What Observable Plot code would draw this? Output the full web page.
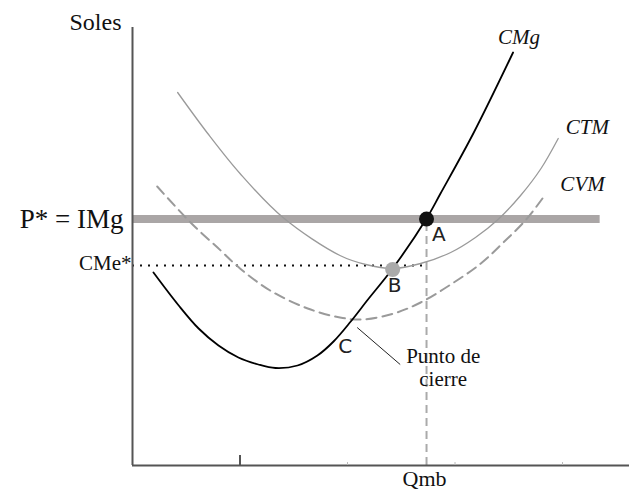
<!DOCTYPE html>
<html>
<head>
<meta charset="utf-8">
<script src="https://cdn.jsdelivr.net/npm/d3@7"></script>
<script src="https://cdn.jsdelivr.net/npm/@observablehq/plot@0.6"></script>
<style>
  html, body { margin: 0; padding: 0; background: #fff; }
  svg { display: block; }
</style>
</head>
<body>
<div id="chart"></div>
<script>
// ---- data (x: cantidad, y: soles) ----
const cmgX = [0.195, 0.43, 0.615, 0.80, 0.985, 1.17, 1.33, 1.535, 1.72, 1.87, 2.03, 2.19, 2.42, 2.735, 2.865, 3.17, 3.54];
const cmgY = [1.93, 1.60, 1.37, 1.20, 1.08, 1.01, 0.975, 1.00, 1.10, 1.24, 1.44, 1.66, 1.97, 2.47, 2.72, 3.32, 4.13];

const ctmX = [0.42, 0.70, 1.00, 1.40, 1.93, 2.17, 2.42, 2.68, 2.96, 3.19, 3.40, 3.61, 3.80, 3.96];
const ctmY = [3.73, 3.32, 2.92, 2.48, 2.10, 2.01, 1.97, 2.02, 2.13, 2.28, 2.46, 2.70, 2.97, 3.27];

const cvmX = [0.23, 0.54, 0.82, 1.00, 1.28, 1.63, 1.93, 2.14, 2.43, 2.68, 2.96, 3.24, 3.45, 3.67, 3.84];
const cvmY = [2.79, 2.43, 2.15, 1.97, 1.75, 1.57, 1.48, 1.46, 1.52, 1.63, 1.81, 2.02, 2.23, 2.47, 2.71];

const pStar = 2.465;     // P* = IMg
const cmeStar = 2.0;     // CMe*
const qmb = 2.735;       // Qmb
const pointA = {x: 2.735, y: 2.465};
const pointB = {x: 2.42, y: 1.96};
const xTicks = [1, 2, 3, 4];
const xMax = 4.623, yMax = 4.38;
const pLineEnd = 4.35;

const curveLabels = ["CMg", "CTM", "CVM"];
const curveLabelX = [3.40, 4.03, 3.98];
const curveLabelY = [4.22, 3.32, 2.75];

const pointLabels = ["A", "B", "C"];
const pointLabelX = [2.785, 2.375, 1.915];
const pointLabelY = [2.25, 1.735, 1.125];

const noteLines = ["Punto de", "cierre"];
const noteX = [2.89, 2.89];
const noteY = [1.03, 0.80];
const leader = [{x1: 2.09, y1: 1.38, x2: 2.49, y2: 1.01}];

const toRows = (xs, ys) => xs.map((x, i) => ({x, y: ys[i]}));
const cmg = toRows(cmgX, cmgY);
const ctm = toRows(ctmX, ctmY);
const cvm = toRows(cvmX, cvmY);
const curveLab = curveLabels.map((t, i) => ({t, x: curveLabelX[i], y: curveLabelY[i]}));
const pointLab = pointLabels.map((t, i) => ({t, x: pointLabelX[i], y: pointLabelY[i]}));
const noteLab = noteLines.map((t, i) => ({t, x: noteX[i], y: noteY[i]}));

const serif = "Liberation Serif, Times New Roman, serif";
const sans = "DejaVu Sans, Open Sans, sans-serif";

const chart = Plot.plot({
  width: 629,
  height: 491,
  marginLeft: 132,
  marginRight: 0,
  marginTop: 27,
  marginBottom: 26,
  x: {domain: [0, xMax], axis: null},
  y: {domain: [0, yMax], axis: null},
  style: {background: "#fff", overflow: "visible"},
  marks: [
    // P* = IMg thick line
    Plot.ruleY([pStar], {x1: 0, x2: pLineEnd, stroke: "#aaa6a6", strokeWidth: 8}),
    // CMe* dotted
    Plot.ruleY([cmeStar], {x1: 0, x2: qmb, stroke: "#111", strokeWidth: 2, strokeDasharray: "2,6"}),
    // Qmb dashed vertical
    Plot.ruleX([qmb], {y1: 0, y2: pStar, stroke: "#aaa", strokeWidth: 2, strokeDasharray: "8,5"}),
    // curves
    Plot.line(ctm, {x: "x", y: "y", curve: "catmull-rom", stroke: "#9a9a9a", strokeWidth: 1.3}),
    Plot.line(cvm, {x: "x", y: "y", curve: "catmull-rom", stroke: "#9a9a9a", strokeWidth: 2, strokeDasharray: "10,6"}),
    Plot.line(cmg, {x: "x", y: "y", curve: "catmull-rom", stroke: "#000", strokeWidth: 1.8}),
    // axes
    Plot.ruleX([0], {stroke: "#555", strokeWidth: 2}),
    Plot.ruleY([0], {stroke: "#555", strokeWidth: 2}),
    Plot.ruleX(xTicks.slice(0, 1), {y1: 0, y2: 0.1, stroke: "#555", strokeWidth: 2}),
    Plot.ruleX(xTicks.slice(1), {y1: 0, y2: 0.03, stroke: "#bbb", strokeWidth: 1}),
    // points
    Plot.dot([pointA], {x: "x", y: "y", r: 7.5, fill: "#111", stroke: "none"}),
    Plot.dot([pointB], {x: "x", y: "y", r: 7.5, fill: "#aaa", stroke: "none"}),
    // leader line
    Plot.link(leader, {x1: "x1", y1: "y1", x2: "x2", y2: "y2", stroke: "#222", strokeWidth: 1}),
    // axis labels
    Plot.text(["Soles"], {x: 0, y: yMax, dx: -11, dy: 2, textAnchor: "end", lineAnchor: "bottom", fontSize: 24, fontFamily: serif, fill: "#111"}),
    Plot.text(["P* = IMg"], {x: 0, y: pStar, dx: -9, textAnchor: "end", lineAnchor: "middle", fontSize: 27, fontFamily: serif, fill: "#111"}),
    Plot.text(["CMe*"], {x: 0, y: cmeStar, dx: -1, dy: -2, textAnchor: "end", lineAnchor: "middle", fontSize: 21, fontFamily: serif, fill: "#111"}),
    Plot.text(["Qmb"], {x: qmb, y: 0, dx: -2, dy: 5, textAnchor: "middle", lineAnchor: "top", fontSize: 22, fontFamily: serif, fill: "#111"}),
    // curve labels
    Plot.text(curveLab, {x: "x", y: "y", text: "t", textAnchor: "start", lineAnchor: "bottom", fontSize: 21, fontStyle: "italic", fontFamily: serif, fill: "#111"}),
    // point labels
    Plot.text(pointLab, {x: "x", y: "y", text: "t", textAnchor: "start", lineAnchor: "bottom", fontSize: 20, fontFamily: sans, fill: "#222"}),
    // note
    Plot.text(noteLab, {x: "x", y: "y", text: "t", textAnchor: "middle", lineAnchor: "bottom", fontSize: 21, fontFamily: serif, fill: "#111"})
  ]
});
// make font-family attributes win over any inherited stylesheet rule
chart.querySelectorAll("[font-family]").forEach(el => {
  const ff = el.getAttribute("font-family");
  el.style.fontFamily = ff;
  el.querySelectorAll("text").forEach(t => t.style.fontFamily = ff);
});
document.getElementById("chart").appendChild(chart);
</script>
</body>
</html>
